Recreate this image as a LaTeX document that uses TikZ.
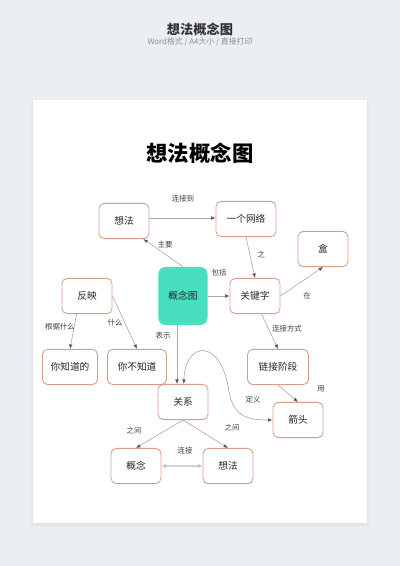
\documentclass[tikz,border=0pt]{standalone}
\usepackage{fontspec}
\setmainfont{Noto Sans CJK SC}
\usetikzlibrary{
    arrows.meta,
    calc,
    positioning
}
\definecolor{bgcol}{HTML}{EBEEF3}
\definecolor{boxline}{HTML}{D99C8C}
\definecolor{mapfill}{HTML}{47DFC0}
\definecolor{lncol}{HTML}{ABABAB}
\definecolor{tipcol}{HTML}{555555}
\definecolor{subcol}{HTML}{8C9099}
\tikzset{sbox/.style={draw=boxline, line width=0.6pt, fill=white, rounded corners=0.13cm, minimum width=1.25cm, minimum height=0.88cm, inner sep=1pt, font=\fontsize{6.9}{8}\selectfont, text=black!85}}
\tikzset{smain/.style={fill=mapfill, rounded corners=0.18cm, minimum width=1.23cm, minimum height=1.45cm, inner sep=1pt, font=\fontsize{6.9}{8}\selectfont, text=black!85}}
\tikzset{slab/.style={inner sep=0pt, font=\fontsize{5.3}{6}\selectfont, text=black!75}}
\tikzset{sarr/.style={draw=lncol, line width=0.45pt, -{Latex[length=3.2pt, width=2.6pt, color=tipcol]}}}
\tikzset{sboth/.style={draw=lncol, line width=0.45pt, {Latex[length=3.2pt, width=2.6pt, color=tipcol]}-{Latex[length=3.2pt, width=2.6pt, color=tipcol]}}}

\begin{document}
\begin{tikzpicture}[x=0.025cm, y=-0.025cm]
                        \fill[bgcol] (0, 0) rectangle (400, 566);
                        \useasboundingbox (0, 0) rectangle (400, 566);

                        % heading above the sheet
                        \node[font=\fontsize{9.4}{11}\selectfont\bfseries, text=black!80] (head) at (200, 29) {想法概念图};
                        \node[font=\fontsize{5.6}{7}\selectfont, text=subcol] (subhead) at (200, 42) {Word格式 / A4大小 / 直接打印};

                        % sheet
                        \fill[black, opacity=0.025] (31, 101) rectangle (369, 527);
                        \fill[black, opacity=0.025] (32, 101) rectangle (368, 525);
                        \fill[white] (33, 100) rectangle (367, 523);

                        \node[font=\fontsize{15.2}{17}\selectfont\bfseries] (title) at (200, 153) {想法概念图};

                        \node[smain] (map) at (183, 296) {概念图};

                        \node[sbox] (idea) at (124, 221) {想法};
                        \node[sbox, minimum width=1.5cm] (net) at (246, 219) {一个网络};
                        \node[sbox] (box) at (323, 249) {盒};
                        \node[sbox] (key) at (255, 296) {关键字};
                        \node[sbox] (reflect) at (87, 296) {反映};
                        \node[sbox, minimum width=1.375cm] (know) at (70, 367) {你知道的};
                        \node[sbox, minimum width=1.475cm] (notknow) at (137, 367) {你不知道};
                        \node[sbox, minimum width=1.525cm] (link) at (278, 367) {链接阶段};
                        \node[sbox] (rel) at (183, 402) {关系};
                        \node[sbox] (arrow) at (298, 420) {箭头};
                        \node[sbox] (concept) at (136, 466) {概念};
                        \node[sbox] (idea2) at (228, 466) {想法};

                        \draw[sarr] (idea.east |- 0, 218) -- (net.west |- 0, 218);
                        \draw[sarr] (map.north) -- (idea.-43);
                        \draw[sarr] (net.south) -- (key.north);
                        \draw[sarr] (map.east) -- (key.west);
                        \draw[sarr] (key.east) -- (box.south);
                        \draw[sarr] (reflect.-120) -- (know.north);
                        \draw[sarr] (reflect.east) -- (notknow.north);
                        \draw[sarr] ([xshift=-0.15cm]map.south) -- ([xshift=-0.15cm]rel.north);
                        \draw[sarr] (key.-70) -- (link.north);
                        \draw[sarr] (link.south) -- (arrow.north);
                        \draw[sboth] ([xshift=0.02cm]rel.north) .. controls (185, 340) and (222, 338) .. (229, 392) .. controls (234, 418) and (250, 420) .. (arrow.west);
                        \draw[sarr] (rel.south) -- (concept.north);
                        \draw[sarr] (rel.south) -- (idea2.north);
                        \draw[draw=black!18, line width=0.9pt, {Latex[length=3.2pt, width=3pt, open, color=black!25]}-{Latex[length=3.2pt, width=3pt, open, color=black!25]}] (concept.east) -- (idea2.west);

                        % edge labels
                        \node[slab] (lconnto) at (183, 199) {连接到};
                        \node[slab] (lmain) at (165, 245) {主要};
                        \node[slab] (lof) at (261, 255) {之};
                        \node[slab] (lincl) at (219, 273) {包括};
                        \node[slab] (lin) at (307, 296) {在};
                        \node[slab] (lbasis) at (60, 327) {根据什么};
                        \node[slab] (lwhat) at (115, 323) {什么};
                        \node[slab] (lshow) at (163, 336) {表示};
                        \node[slab] (lway) at (287, 329) {连接方式};
                        \node[slab] (luse) at (321, 389) {用};
                        \node[slab] (ldef) at (253, 400) {定义};
                        \node[slab] (lbtw) at (134, 431) {之间};
                        \node[slab] (lbtw2) at (232, 428) {之间};
                        \node[slab] (lconn) at (185, 451) {连接};
                    \end{tikzpicture}
\end{document}
